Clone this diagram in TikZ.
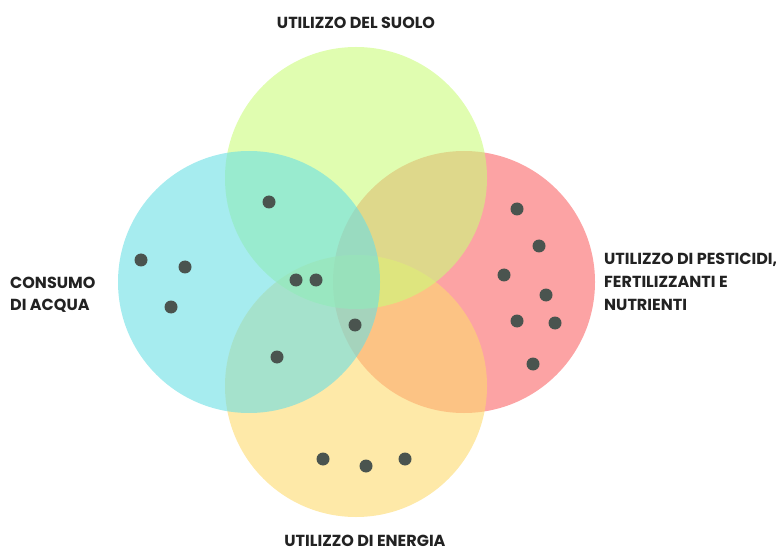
\documentclass[tikz,border=0pt]{standalone}
\usepackage{fontspec}
\setmainfont{Poppins}
\definecolor{soilgreen}{RGB}{203,252,123}
\definecolor{watercyan}{RGB}{107,223,228}
\definecolor{chemred}{RGB}{250,102,103}
\definecolor{energyyellow}{RGB}{253,218,110}
\definecolor{dotgray}{RGB}{74,84,79}
\definecolor{labelink}{RGB}{34,34,34}
\begin{document}
\begin{tikzpicture}[x=1pt,y=-1pt,
  setcircle/.style={circle,minimum size=262pt,inner sep=0pt,fill opacity=0.6},
  marker/.style={circle,fill=dotgray,minimum size=13pt,inner sep=0pt},
  caption/.style={font=\bfseries\fontsize{16}{23}\selectfont,text=labelink,inner sep=0pt,align=left}]
\clip (0,0) rectangle (776,553);
\useasboundingbox (0,0) rectangle (776,553);
% the four sets, lower layers first
\node[setcircle,fill=chemred] (pest) at (464,282) {};
\node[setcircle,fill=energyyellow] (energy) at (356,386) {};
\node[setcircle,fill=soilgreen] (soil) at (356,178) {};
\node[setcircle,fill=watercyan] (water) at (249,282) {};
% labels (base anchor of a multi-line label sits on its last line)
\node[caption,anchor=base] (lsoil) at (356,29) {UTILIZZO DEL SUOLO};
\node[caption,anchor=base west,font=\bfseries\fontsize{16}{22}\selectfont] (lwater) at (10,310) {CONSUMO\\DI ACQUA};
\node[caption,anchor=base west] (lpest) at (604,310) {UTILIZZO DI PESTICIDI,\\FERTILIZZANTI E\\NUTRIENTI};
\node[caption,anchor=base,align=center] (lenergy) at (365,546) {UTILIZZO DI ENERGIA};
% items
\node[marker] (d1) at (269,202) {};
\node[marker] (d2) at (141,260) {};
\node[marker] (d3) at (185,267) {};
\node[marker] (d4) at (171,307) {};
\node[marker] (d5) at (296,280) {};
\node[marker] (d6) at (316,280) {};
\node[marker] (d7) at (355,325) {};
\node[marker] (d8) at (277,357) {};
\node[marker] (d9) at (517,209) {};
\node[marker] (d10) at (539,246) {};
\node[marker] (d11) at (504,275) {};
\node[marker] (d12) at (546,295) {};
\node[marker] (d13) at (517,321) {};
\node[marker] (d14) at (555,323) {};
\node[marker] (d15) at (533,364) {};
\node[marker] (d16) at (323,459) {};
\node[marker] (d17) at (366,466) {};
\node[marker] (d18) at (405,459) {};
\end{tikzpicture}
\end{document}
